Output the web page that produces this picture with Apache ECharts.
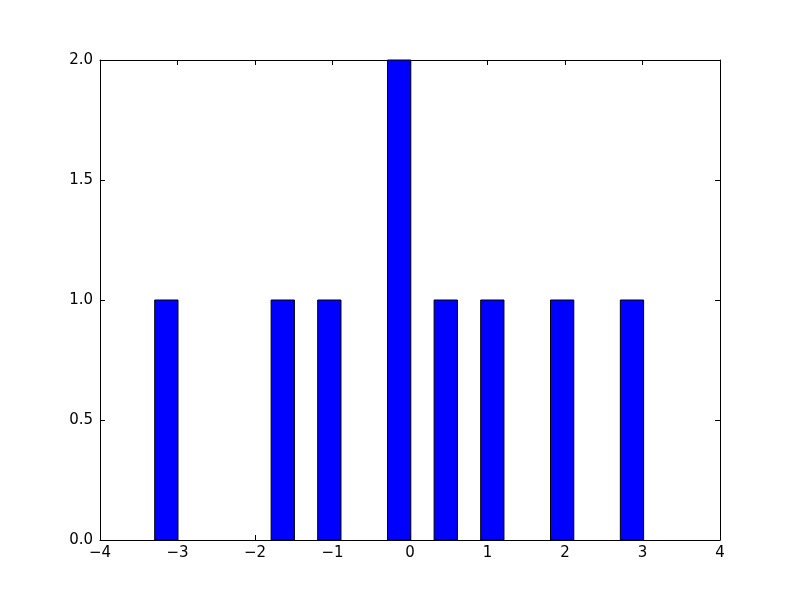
<!DOCTYPE html>
<html><head><meta charset="utf-8">
<script src="https://cdn.jsdelivr.net/npm/echarts@6/dist/echarts.min.js"></script>
<style>html,body{margin:0;padding:0;background:#fff}#c{width:800px;height:600px}</style>
</head><body><div id="c"></div>
<script>
const binLefts = [-3.294, -1.792, -1.191, -0.290, 0.311, 0.912, 1.813, 2.714];
const binWidth = 0.3004;
const counts = [1, 1, 1, 2, 1, 1, 1, 1];
const xTicks = [-4, -3, -2, -1, 0, 1, 2, 3, 4];
const yTicks = [0.0, 0.5, 1.0, 1.5, 2.0];

const fmtX = v => (v < 0 ? '\u2212' + Math.abs(v) : String(v));
const fmtY = v => v.toFixed(1);
const font = 'DejaVu Sans';
const data = binLefts.map((l, i) => [l, l + binWidth, counts[i]]);

const chart = echarts.init(document.getElementById('c'));
const axisCommon = () => ({
  axisLine: { show: true, onZero: false, lineStyle: { color: '#000', width: 1 } },
  axisTick: { show: true, inside: true, length: 5, lineStyle: { color: '#000' } },
  splitLine: { show: false }
});
chart.setOption({
  animation: false,
  backgroundColor: '#fff',
  grid: { left: 100, right: 80, top: 60, bottom: 60, show: false },
  xAxis: [
    Object.assign({ type: 'value', position: 'bottom', min: xTicks[0], max: xTicks[xTicks.length - 1], interval: 1,
      axisLabel: { color: '#000', fontFamily: font, fontSize: 15, margin: 6, formatter: fmtX } }, axisCommon()),
    Object.assign({ type: 'value', position: 'top', min: xTicks[0], max: xTicks[xTicks.length - 1], interval: 1,
      axisLabel: { show: false } }, axisCommon())
  ],
  yAxis: [
    Object.assign({ type: 'value', position: 'left', min: yTicks[0], max: yTicks[yTicks.length - 1], interval: 0.5,
      axisLabel: { color: '#000', fontFamily: font, fontSize: 15, margin: 7, formatter: fmtY } }, axisCommon()),
    Object.assign({ type: 'value', position: 'right', min: yTicks[0], max: yTicks[yTicks.length - 1], interval: 0.5,
      axisLabel: { show: false } }, axisCommon())
  ],
  series: [{
    type: 'custom',
    xAxisIndex: 0, yAxisIndex: 0,
    data: data,
    encode: { x: [0, 1], y: 2 },
    renderItem: function (params, api) {
      const p0 = api.coord([api.value(0), 0]);
      const p1 = api.coord([api.value(1), api.value(2)]);
      return {
        type: 'rect',
        shape: { x: p0[0], y: p1[1], width: p1[0] - p0[0], height: p0[1] - p1[1] },
        style: { fill: '#0000ff', stroke: '#000', lineWidth: 1 }
      };
    }
  }]
});
</script></body></html>
